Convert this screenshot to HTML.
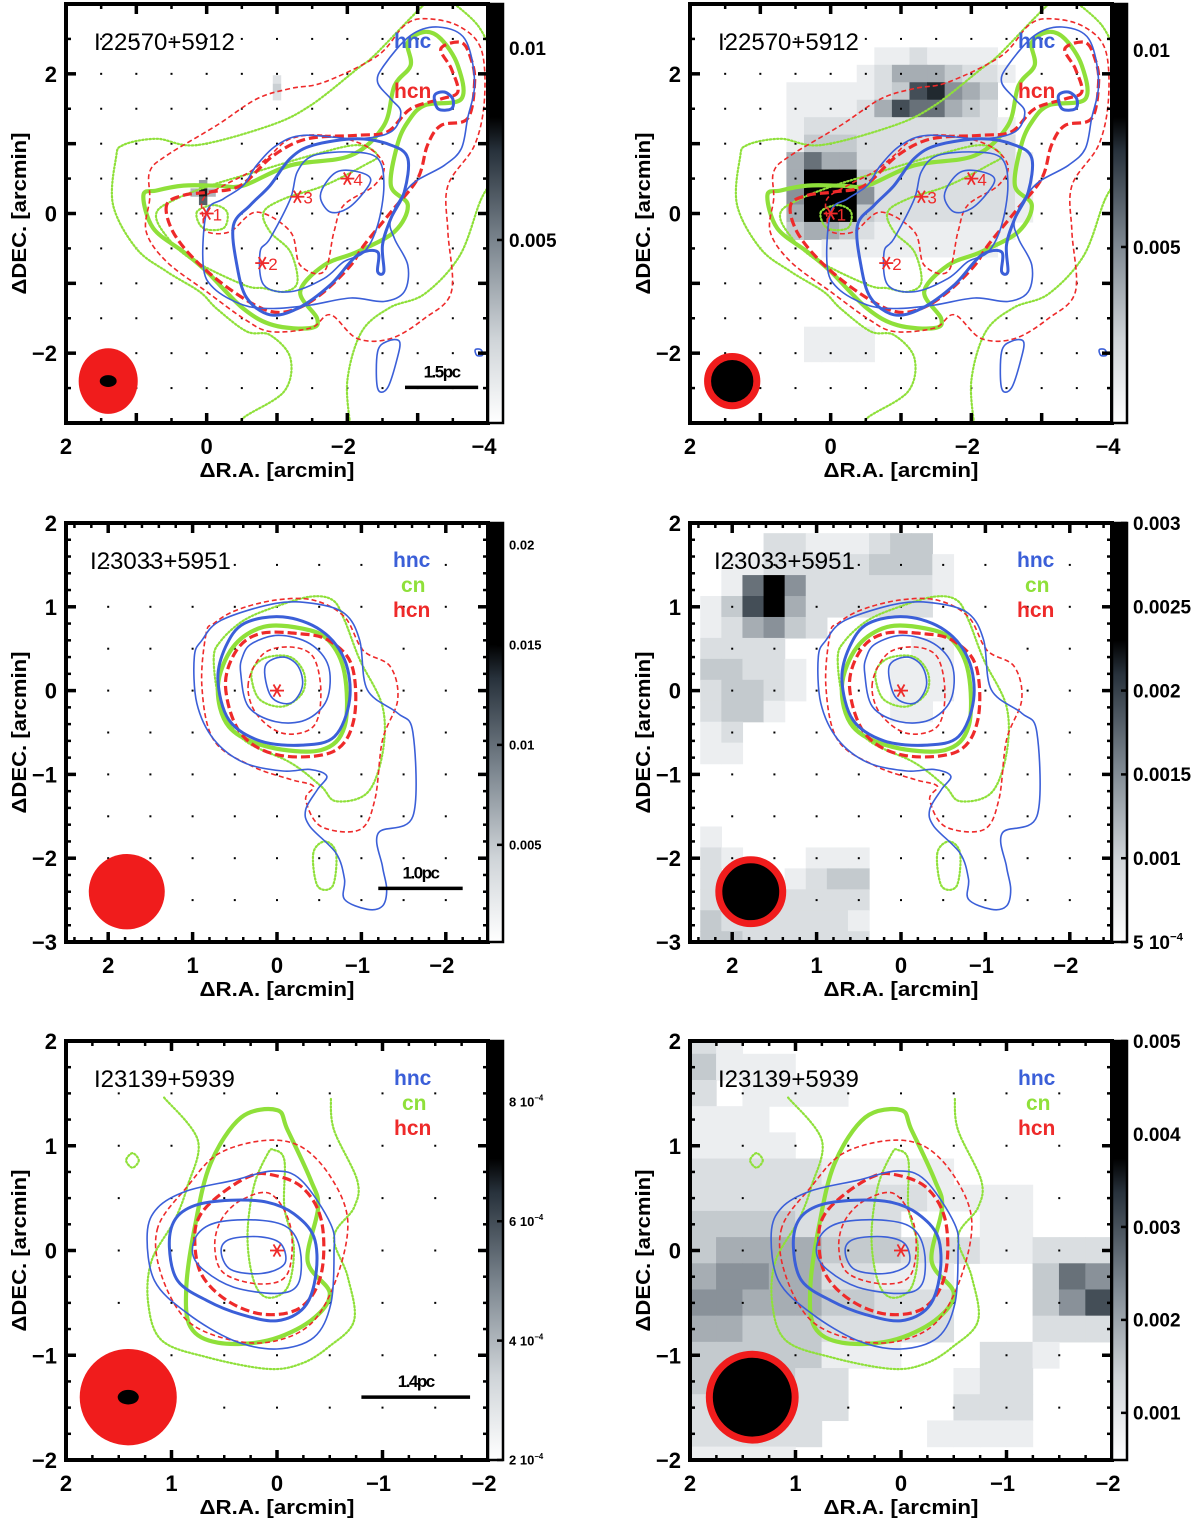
<!DOCTYPE html>
<html><head><meta charset="utf-8"><style>
html,body{margin:0;padding:0;background:#fff;}
svg{display:block;font-family:"Liberation Sans",Arial,sans-serif;}
</style></head><body>
<svg id="fig" width="1200" height="1520" viewBox="0 0 1200 1520" xmlns="http://www.w3.org/2000/svg"></svg>
<script>
// ---------------- DATA (arcmin offsets) ----------------
// Row 1 : I22570+5912
const r1HncThin1 = [[0,0.02],[0.05,-0.74],[-0.1,-1.07],[-0.52,-1.31],[-0.95,-1.36],[-1.48,-1.31],[-2.05,-1.21],[-2.52,-1.26],[-2.81,-1.12],[-2.86,-0.74],[-2.67,-0.36],[-2.62,-0.07],[-2.9,0.4],[-3.38,0.69],[-3.62,0.93],[-3.71,1.36],[-3.81,1.88],[-3.67,2.5],[-3.29,2.67],[-2.9,2.55],[-2.52,2.12],[-2.43,1.88],[-2.62,1.64],[-2.76,1.45],[-2.62,1.17],[-2.14,1.07],[-1.38,1.12],[-1.0,0.98],[-0.71,0.69],[-0.52,0.4],[-0.24,0.21]];
const r1HncThick = [[-0.38,-0.17],[-0.43,-0.74],[-0.57,-1.21],[-0.9,-1.45],[-1.29,-1.36],[-1.76,-1.02],[-2.14,-0.6],[-2.43,-0.55],[-2.43,-0.83],[-2.52,-0.83],[-2.5,-0.45],[-2.62,-0.07],[-2.81,0.31],[-2.86,0.79],[-2.62,0.98],[-2.14,1.07],[-1.52,0.98],[-1.19,0.79],[-0.9,0.4],[-0.62,0.12]];
const r1HncThin2 = [[-0.76,-0.55],[-0.81,-1.02],[-1.19,-1.12],[-1.67,-0.93],[-1.95,-0.69],[-2.24,-0.55],[-2.43,-0.17],[-2.52,0.4],[-2.43,0.79],[-2.05,0.88],[-1.52,0.83],[-1.29,0.6],[-1.19,0.21],[-0.9,-0.36]];
const r1HncInner = [[-1.67,0.4],[-1.62,0.21],[-1.76,0.02],[-2.0,0.07],[-2.24,0.31],[-2.33,0.5],[-2.14,0.6],[-1.86,0.6]];
const r1HncKnot = [[-3.24,1.69],[-3.29,1.5],[-3.48,1.5],[-3.5,1.64],[-3.38,1.74]];
const r1HncSouth = [[-2.43,-1.98],[-2.43,-2.5],[-2.57,-2.5],[-2.71,-2.07],[-2.74,-1.83],[-2.57,-1.83]];
const r1HncTiny = [[-3.82,-1.95],[-3.84,-2.03],[-3.92,-2.03],[-3.9,-1.95]];
const r1CnThick = [[0.9,0.26],[0.76,-0.21],[0.33,-0.55],[0,-0.83],[-0.52,-1.36],[-0.95,-1.6],[-1.48,-1.64],[-1.57,-1.5],[-1.33,-1.12],[-1.67,-0.74],[-2.14,-0.55],[-2.67,-0.26],[-2.86,0.12],[-2.62,0.4],[-2.71,0.98],[-2.86,1.31],[-3.1,1.55],[-3.62,1.64],[-3.57,2.12],[-3.33,2.5],[-3.1,2.6],[-2.86,2.45],[-2.9,2.12],[-2.67,1.83],[-2.52,1.26],[-2.05,0.83],[-1.19,0.69],[-0.52,0.4],[-0.14,0.4],[0.33,0.4],[0.71,0.33]];
const r1CnOuter = [[-0.52,-3.1],[-0.52,-2.93],[-1.1,-2.55],[-1.19,-2.07],[-0.9,-1.74],[-0.57,-1.69],[-0.14,-1.36],[0.1,-1.12],[0.57,-0.83],[1.0,-0.5],[1.33,0.12],[1.29,0.79],[1.19,0.98],[0.71,1.07],[0.14,0.98],[-0.9,1.26],[-1.48,1.55],[-2.14,2.07],[-2.38,2.26],[-2.9,2.8],[-3.2,3.1]];
const r1CnEast = [[-2.05,-3.1],[-2.0,-2.4],[-2.2,-1.7],[-2.6,-1.35],[-3.1,-1.15],[-3.6,-0.6],[-3.9,0.2],[-4.1,0.5]];
const r1CnNE = [[-3.4,3.1],[-3.85,2.7],[-4.1,2.2]];
const r1CnMid = [[0.71,0.02],[0.62,-0.26],[0.24,-0.64],[-0.52,-1.02],[-0.81,-1.07],[-1.1,-1.12],[-1.29,-0.98],[-1.19,-0.55],[-0.9,-0.26],[-0.81,0.02],[-1.1,0.21],[-1.67,0.4],[-2.24,0.69],[-2.43,0.83],[-2.14,0.98],[-1.48,0.83],[-0.71,0.6],[-0.05,0.4],[0.43,0.21]];
const r1CnInner = [[0.14,0.02],[0.05,-0.21],[-0.24,-0.21],[-0.29,0.02],[-0.1,0.12]];
const r1HcnThick = [[0.57,0.12],[0.48,-0.26],[0.14,-0.69],[-0.38,-1.12],[-0.9,-1.4],[-1.29,-1.36],[-1.67,-1.12],[-2.05,-0.74],[-2.24,-0.45],[-2.62,0.02],[-3.0,0.5],[-3.14,0.98],[-3.33,1.26],[-3.71,1.36],[-3.81,1.88],[-3.76,2.21],[-3.62,2.45],[-3.33,2.36],[-3.48,2.07],[-3.57,1.74],[-3.33,1.64],[-2.9,1.5],[-2.57,1.17],[-2.14,1.12],[-1.43,1.07],[-0.95,0.83],[-0.48,0.4],[-0.05,0.31],[0.33,0.26]];
const r1HcnOuter = [[0.81,0.21],[0.86,-0.26],[0.57,-0.69],[0,-1.12],[-0.52,-1.5],[-0.9,-1.69],[-1.48,-1.64],[-1.76,-1.45],[-2.14,-1.79],[-2.62,-1.79],[-3.1,-1.5],[-3.48,-1.12],[-3.43,-0.26],[-3.43,0.4],[-3.81,0.98],[-3.95,1.64],[-3.9,2.36],[-3.57,2.69],[-3.1,2.79],[-2.81,2.69],[-2.43,2.26],[-1.67,1.88],[-1.19,1.79],[-0.71,1.64],[-0.14,1.26],[0.57,0.83],[0.81,0.6]];
const r1HcnInner = [[0.05,-0.07],[0,-0.26],[-0.33,-0.26],[-0.71,0.02],[-1.19,-0.26],[-1.33,-0.74],[-1.67,-0.83],[-1.81,-0.26],[-1.95,0.12],[-2.38,0.4],[-2.52,0.69],[-2.24,0.98],[-1.67,1.12],[-1.19,1.07],[-0.9,0.83],[-0.62,0.6],[-0.24,0.4],[0.05,0.21]];
const r1StarRA = [0,-0.79,-1.29,-2.0];
const r1StarDec = [0,-0.71,0.24,0.5];
const r1StarLabels = ["1","2","3","4"];

// Row 2 : I23033+5951
const r2HncOuter = [[0.98,0.4],[0.95,-0.15],[0.75,-0.58],[0.39,-0.86],[-0.07,-0.96],[-0.39,-0.94],[-0.59,-1.02],[-0.48,-1.18],[-0.34,-1.42],[-0.39,-1.62],[-0.7,-1.94],[-0.8,-2.25],[-0.8,-2.49],[-1.07,-2.61],[-1.25,-2.57],[-1.3,-2.37],[-1.25,-2.1],[-1.2,-1.7],[-1.61,-1.5],[-1.61,-0.5],[-1.43,-0.27],[-1.07,0.01],[-0.98,0.6],[-0.8,0.92],[-0.43,1.04],[0.02,1.04],[0.66,0.84],[0.89,0.6]];
const r2HncThick = [[0.7,0.13],[0.57,-0.35],[0.2,-0.6],[-0.3,-0.65],[-0.68,-0.55],[-0.86,-0.11],[-0.8,0.37],[-0.52,0.72],[-0.07,0.88],[0.39,0.8],[0.61,0.52]];
const r2HncMid = [[0.43,0.21],[0.34,-0.19],[0.02,-0.37],[-0.34,-0.35],[-0.59,-0.11],[-0.61,0.29],[-0.39,0.56],[-0.02,0.66],[0.3,0.56],[0.41,0.4]];
const r2HncInner = [[0.14,0.29],[0.07,-0.07],[-0.16,-0.15],[-0.3,0.05],[-0.25,0.29],[-0.07,0.4]];
const r2CnThick = [[0.7,0.05],[0.57,-0.43],[0.11,-0.67],[-0.52,-0.71],[-0.8,-0.43],[-0.8,0.21],[-0.61,0.6],[-0.3,0.74],[0.16,0.76],[0.52,0.52]];
const r2CnOuter = [[0.75,0.37],[0.66,-0.19],[0.39,-0.59],[-0.16,-0.86],[-0.52,-1.14],[-0.7,-1.32],[-1.07,-1.22],[-1.25,-0.75],[-1.25,-0.19],[-0.98,0.37],[-0.8,0.84],[-0.66,1.08],[-0.39,1.12],[0.02,1.0],[0.39,0.84],[0.66,0.6]];
const r2CnInner = [[0.3,0.13],[0.2,-0.11],[-0.07,-0.19],[-0.3,-0.03],[-0.32,0.21],[-0.16,0.4],[0.11,0.4],[0.27,0.29]];
const r2CnLoop = [[-0.43,-1.94],[-0.48,-2.33],[-0.66,-2.33],[-0.7,-1.94],[-0.57,-1.8]];
const r2HcnThick = [[0.61,0.05],[0.43,-0.51],[-0.02,-0.77],[-0.66,-0.73],[-0.91,-0.35],[-0.89,0.29],[-0.61,0.6],[-0.25,0.68],[0.2,0.68],[0.48,0.48]];
const r2HcnOuter = [[0.84,0.68],[0.89,0.05],[0.75,-0.59],[0.3,-0.9],[-0.16,-1.06],[-0.43,-1.14],[-0.34,-1.3],[-0.52,-1.62],[-0.98,-1.66],[-1.16,-1.3],[-1.25,-0.59],[-1.43,-0.11],[-1.34,0.29],[-1.02,0.48],[-0.8,0.88],[-0.43,1.08],[0.02,1.08],[0.48,0.96],[0.75,0.8]];
const r2HcnInner = [[0.34,0.09],[0.25,-0.27],[-0.07,-0.51],[-0.43,-0.43],[-0.52,-0.03],[-0.43,0.4],[-0.16,0.52],[0.16,0.44]];
const r2StarRA = [0];
const r2StarDec = [0];

// Row 3 : I23139+5939
const r3HncOuter = [[1.23,0.16],[1.16,-0.29],[0.85,-0.6],[0.41,-0.86],[0,-0.94],[-0.35,-0.83],[-0.51,-0.51],[-0.54,-0.03],[-0.51,0.25],[-0.23,0.67],[0.03,0.76],[0.41,0.67],[0.85,0.57],[1.13,0.41]];
const r3HncThick = [[1.02,0.03],[0.94,-0.29],[0.66,-0.48],[0.34,-0.61],[0,-0.67],[-0.26,-0.54],[-0.37,-0.22],[-0.35,0.13],[-0.16,0.35],[0.09,0.46],[0.44,0.48],[0.78,0.43],[0.97,0.29]];
const r3HncMid = [[0.8,-0.03],[0.69,-0.19],[0.41,-0.35],[0,-0.41],[-0.2,-0.32],[-0.22,0],[-0.1,0.22],[0.18,0.29],[0.56,0.27],[0.75,0.16]];
const r3HncInner = [[0.53,0],[0.44,-0.18],[0.15,-0.22],[-0.07,-0.13],[-0.04,0.06],[0.15,0.13],[0.44,0.11]];
const r3CnThick = [[0.63,0.83],[0.34,1.27],[0,1.34],[-0.1,1.15],[-0.32,0.67],[-0.39,0.41],[-0.29,-0.1],[-0.5,-0.41],[-0.32,-0.67],[0.09,-0.86],[0.56,-0.88],[0.82,-0.73],[0.86,-0.35],[0.78,0.22]];
const r3CnOuter = [[1.07,1.46],[0.75,1.05],[0.85,0.61],[0.97,0.29],[1.19,-0.1],[1.22,-0.51],[1.09,-0.86],[0.66,-1.02],[0.09,-1.13],[-0.23,-1.08],[-0.49,-0.92],[-0.73,-0.67],[-0.67,-0.25],[-0.54,0.13],[-0.73,0.41],[-0.76,0.67],[-0.54,1.15],[-0.51,1.46]];
const r3CnInner = [[0.09,0.92],[0.22,0.61],[0.28,0.13],[0.22,-0.29],[0.09,-0.45],[-0.1,-0.35],[-0.16,0.03],[-0.07,0.41],[-0.07,0.86],[0.03,0.96]];
const r3CnLoop = [[1.31,0.86],[1.37,0.79],[1.43,0.86],[1.37,0.93]];
const r3HcnThick = [[0.78,0.13],[0.72,-0.22],[0.47,-0.48],[0.12,-0.61],[-0.23,-0.54],[-0.42,-0.22],[-0.42,0.29],[-0.23,0.61],[0.09,0.73],[0.28,0.7],[0.53,0.54],[0.72,0.35]];
const r3HcnOuter = [[1.13,0.22],[1.1,-0.22],[0.85,-0.67],[0.41,-0.86],[0,-0.86],[-0.35,-0.67],[-0.58,-0.22],[-0.67,0.29],[-0.51,0.7],[-0.23,0.99],[0.12,1.05],[0.56,0.92],[0.85,0.61]];
const r3HcnInner = [[0.59,0.03],[0.5,-0.22],[0.15,-0.32],[-0.1,-0.22],[-0.13,0.22],[0.06,0.54],[0.34,0.48],[0.53,0.29]];
const r3StarRA = [0];
const r3StarDec = [0];

// Gray-scale maps (digit 0..9 intensity) for the right-hand panels
const r1GrayRA0 = 1.0, r1GrayDec0 = 2.5, r1GrayStep = 0.25;
const r1Gray = ["00000000000000000","00000001121111000","00000012444322100","00111112378543000","00111124766432000","00122222222222100","00133322222222200","00464422222222210","00499932222222210","00599952222222210","00499932222222210","00344321111111100","00001111111111000","00000000000000000","00000000000000000","00000000000000000","00000000000000000","00011110000000000","00011110000000000","00000000000000000","00000000000000000"];
const r2GrayRA0 = 2.25, r2GrayDec0 = 1.75, r2GrayStep = 0.25;
const r2Gray = ["000221112330","011222223331","016952222221","137942222220","124532000000","222200000011","332210000111","233210000111","233100000110","120000000000","110000000000","000000000000","000000000000","000000000000","100000000000","210001110000","200012330000","222222220000","322222210000","332222220000"];
const r3GrayRA0 = 1.875, r3GrayDec0 = 2.0, r3GrayStep = 0.25;
const r3Gray = ["2100000000000000","3111000000000000","2011110000000000","1110000000000000","1111000000000000","2222211111000000","2222222221111000","3333222200011000","3444433322211222","4554422111000365","5544433222000357","4433322222000222","3333311100022100","3333220000122000","2222220000222000","2222200001111000","1111000000000000"];
// Left row1 small gray features
const r1LeftBlobRA = [0.05,0.05,0.05,-0.07,0.17,-1.0,-1.0,-1.0];
const r1LeftBlobDec = [0.3,0.18,0.42,0.3,0.3,1.8,1.92,1.68];
const r1LeftBlobLvl = [9,7,5,4,4,3,2,2];

// Axis tick labels
const r1XTicks = [2,0,-2,-4], r1YTicks = [2,0,-2];
const r2XTicks = [2,1,0,-1,-2], r2YTicks = [2,1,0,-1,-2,-3];
const r3XTicks = [2,1,0,-1,-2], r3YTicks = [2,1,0,-1,-2];

// Colorbar tick values & labels
const cb1LVals = [0.01,0.005], cb1LText = ["0.01","0.005"];
const cb1RVals = [0.01,0.005], cb1RText = ["0.01","0.005"];
const cb2LVals = [0.02,0.015,0.01,0.005], cb2LText = ["0.02","0.015","0.01","0.005"];
const cb2RVals = [0.003,0.0025,0.002,0.0015,0.001,0.0005], cb2RText = ["0.003","0.0025","0.002","0.0015","0.001","5 10|-4"];
const cb3LVals = [0.0008,0.0006,0.0004,0.0002], cb3LText = ["8 10|-4","6 10|-4","4 10|-4","2 10|-4"];
const cb3RVals = [0.005,0.004,0.003,0.002,0.001], cb3RText = ["0.005","0.004","0.003","0.002","0.001"];

// ---------------- DRAWING ----------------
const NS = "http://www.w3.org/2000/svg";
const svg = document.getElementById('fig');
const BLUE = "#3b5fd8", GREEN = "#8fe03a", RED = "#ee2a2a";
function mk(tag, attrs, parent){ const e = document.createElementNS(NS, tag); for (const k in attrs) e.setAttribute(k, attrs[k]); (parent||svg).appendChild(e); return e; }

function grayColor(k){
  const v = k/9;
  const stops = [[0,[255,255,255]],[0.3,[205,210,214]],[0.6,[125,134,142]],[0.85,[45,55,64]],[1,[0,0,0]]];
  for (let i=1;i<stops.length;i++){ if (v<=stops[i][0]){ const a=stops[i-1],b=stops[i]; const t=(v-a[0])/(b[0]-a[0]); const c=a[1].map((x,j)=>Math.round(x+(b[1][j]-x)*t)); return `rgb(${c[0]},${c[1]},${c[2]})`; } }
  return "#000";
}
function smoothPath(pts, closed){
  const n = pts.length; let d = `M${pts[0][0].toFixed(1)},${pts[0][1].toFixed(1)}`;
  const P = i => closed ? pts[(i+n)%n] : pts[Math.max(0,Math.min(n-1,i))];
  const segs = closed ? n : n-1;
  for (let i=0;i<segs;i++){
    const p0=P(i-1),p1=P(i),p2=P(i+1),p3=P(i+2);
    const c1=[p1[0]+(p2[0]-p0[0])/6,p1[1]+(p2[1]-p0[1])/6], c2=[p2[0]-(p3[0]-p1[0])/6,p2[1]-(p3[1]-p1[1])/6];
    d += `C${c1[0].toFixed(1)},${c1[1].toFixed(1)} ${c2[0].toFixed(1)},${c2[1].toFixed(1)} ${p2[0].toFixed(1)},${p2[1].toFixed(1)}`;
  }
  return d + (closed?"Z":"");
}
const STYLE = {
  hncThin:{stroke:BLUE,'stroke-width':1.6},
  hncThick:{stroke:BLUE,'stroke-width':3},
  cnThin:{stroke:GREEN,'stroke-width':2.2,'stroke-dasharray':'1.4 2.2','stroke-linecap':'round'},
  cnThick:{stroke:GREEN,'stroke-width':4.2},
  hcnThin:{stroke:RED,'stroke-width':1.6,'stroke-dasharray':'5 3'},
  hcnThick:{stroke:RED,'stroke-width':3.2,'stroke-dasharray':'9 4'}
};
const rows = [
  {y0:4, y1:423, ra:[2,-4], dec:[3,-3], minor:0.5, xt:r1XTicks, yt:r1YTicks, name:"I22570+5912", legend:["hnc","hcn"],
   contours:[[r1CnOuter,'cnThin',true],[r1CnEast,'cnThin',true],[r1CnNE,'cnThin',true],[r1CnMid,'cnThin'],[r1CnInner,'cnThin'],[r1CnThick,'cnThick'],[r1HcnOuter,'hcnThin'],[r1HcnInner,'hcnThin'],[r1HcnThick,'hcnThick'],[r1HncThin1,'hncThin'],[r1HncThin2,'hncThin'],[r1HncInner,'hncThin'],[r1HncSouth,'hncThin'],[r1HncTiny,'hncThin'],[r1HncThick,'hncThick'],[r1HncKnot,'hncThick']],
   starRA:r1StarRA, starDec:r1StarDec, starLab:r1StarLabels,
   gray:{g:r1Gray,ra0:r1GrayRA0,dec0:r1GrayDec0,step:r1GrayStep},
   beamL:{ra:1.4,dec:-2.4,rx:0.42,ry:0.47,irx:0.12,iry:0.085}, beamR:{ra:1.4,dec:-2.4,r:0.4},
   bar:{ra1:-2.82,ra2:-3.86,dec:-2.49,label:"1.5pc"},
   cb:[{vals:cb1LVals,txt:cb1LText,range:[0.00023,0.01115],black:0.27,fs:19},{vals:cb1RVals,txt:cb1RText,range:[0.00053,0.01117],black:0.27,fs:19}]},
  {y0:523, y1:942, ra:[2.5,-2.5], dec:[2,-3], minor:0.2, xt:r2XTicks, yt:r2YTicks, name:"I23033+5951", legend:["hnc","cn","hcn"],
   contours:[[r2CnOuter,'cnThin'],[r2CnInner,'cnThin'],[r2CnLoop,'cnThin'],[r2CnThick,'cnThick'],[r2HcnOuter,'hcnThin'],[r2HcnInner,'hcnThin'],[r2HcnThick,'hcnThick'],[r2HncOuter,'hncThin'],[r2HncMid,'hncThin'],[r2HncInner,'hncThin'],[r2HncThick,'hncThick']],
   starRA:r2StarRA, starDec:r2StarDec, starLab:[],
   gray:{g:r2Gray,ra0:r2GrayRA0,dec0:r2GrayDec0,step:r2GrayStep},
   beamL:{ra:1.78,dec:-2.4,rx:0.45,ry:0.45,irx:0,iry:0}, beamR:{ra:1.78,dec:-2.4,r:0.42},
   bar:{ra1:-1.2,ra2:-2.2,dec:-2.36,label:"1.0pc"},
   cb:[{vals:cb2LVals,txt:cb2LText,range:[0.00014,0.0211],black:0.29,fs:13},{vals:cb2RVals,txt:cb2RText,range:[0.0005,0.003],black:0.28,fs:19}]},
  {y0:1041, y1:1460, ra:[2,-2], dec:[2,-2], minor:0.25, xt:r3XTicks, yt:r3YTicks, name:"I23139+5939", legend:["hnc","cn","hcn"],
   contours:[[r3CnOuter,'cnThin',true],[r3CnInner,'cnThin'],[r3CnLoop,'cnThin'],[r3CnThick,'cnThick'],[r3HcnOuter,'hcnThin'],[r3HcnInner,'hcnThin'],[r3HcnThick,'hcnThick'],[r3HncOuter,'hncThin'],[r3HncMid,'hncThin'],[r3HncInner,'hncThin'],[r3HncThick,'hncThick']],
   starRA:r3StarRA, starDec:r3StarDec, starLab:[],
   gray:{g:r3Gray,ra0:r3GrayRA0,dec0:r3GrayDec0,step:r3GrayStep},
   beamL:{ra:1.41,dec:-1.4,rx:0.46,ry:0.46,irx:0.1,iry:0.07}, beamR:{ra:1.41,dec:-1.4,r:0.44},
   bar:{ra1:-0.8,ra2:-1.83,dec:-1.4,label:"1.4pc"},
   cb:[{vals:cb3LVals,txt:cb3LText,range:[0.0002,0.000902],black:0.28,fs:13},{vals:cb3RVals,txt:cb3RText,range:[0.000493,0.005],black:0.28,fs:19}]}
];
const cols = [{x0:66,x1:488},{x0:690,x1:1112}];
const fmt = v => (v<0?"\u2212":"")+Math.abs(v);

rows.forEach((R, ri) => {
  cols.forEach((C, ci) => {
    const g = mk('g', {});
    
    
    const X = ra => C.x0 + (R.ra[0]-ra)/(R.ra[0]-R.ra[1])*(C.x1-C.x0);
    const Y = de => R.y0 + (R.dec[0]-de)/(R.dec[0]-R.dec[1])*(R.y1-R.y0);
    const sx = (C.x1-C.x0)/(R.ra[0]-R.ra[1]), sy = (R.y1-R.y0)/(R.dec[0]-R.dec[1]);
    const cid = `clip${ri}${ci}`;
    const defs = mk('defs', {}, g); const cp = mk('clipPath', {id:cid}, defs);
    mk('rect', {x:C.x0, y:R.y0, width:C.x1-C.x0, height:R.y1-R.y0}, cp);
    const plot = mk('g', {'clip-path':`url(#${cid})`}, g);
    
    
    if (ci===1){
      const G = R.gray;
      G.g.forEach((row, j) => { for (let i=0;i<row.length;i++){ const k=+row[i]; if(!k) continue;
        const ra = G.ra0 - i*G.step, de = G.dec0 - j*G.step;
        const r = mk('rect', {x:X(ra+G.step/2)-0.3, y:Y(de+G.step/2)-0.3, width:G.step*sx+0.6, height:G.step*sy+0.6, fill:grayColor(k)}, plot);
        
         } });
    } else if (ri===0){
      r1LeftBlobRA.forEach((ra,i) => { const s=0.12;
        const r = mk('rect', {x:X(ra+s/2), y:Y(r1LeftBlobDec[i]+s/2), width:s*sx, height:s*sy, fill:grayColor(r1LeftBlobLvl[i]), opacity:0.9}, plot);
        
         });
    }
    for (let ra=Math.floor(R.ra[0]*2)/2; ra>R.ra[1]; ra-=0.5){ if (ra>=R.ra[0]) continue;
      for (let de=Math.floor(R.dec[0]*2)/2; de>R.dec[1]; de-=0.5){ if (de>=R.dec[0]) continue;
        mk('rect', {x:X(ra)-1, y:Y(de)-1, width:2, height:2, fill:'#000'}, plot); } }
    R.contours.forEach(([pts, st, open]) => {
      const p = mk('path', Object.assign({d:smoothPath(pts.map(q=>[X(q[0]),Y(q[1])]), !open), fill:'none'}, STYLE[st]), plot);
      
      
    });
    if (ci===0){
      const b = R.beamL;
      const e = mk('ellipse', {cx:X(b.ra), cy:Y(b.dec), rx:b.rx*sx, ry:b.ry*sy, fill:'#f01c1c'}, plot);
      
      
      if (b.irx) mk('ellipse', {cx:X(b.ra), cy:Y(b.dec), rx:b.irx*sx, ry:b.iry*sy, fill:'#000'}, plot);
    } else {
      const b = R.beamR;
      const e = mk('circle', {cx:X(b.ra), cy:Y(b.dec), r:b.r*sx-3.5, fill:'#000', stroke:'#f01c1c', 'stroke-width':7}, plot);
      
      
    }
    R.starRA.forEach((ra,i) => { const x=X(ra), y=Y(R.starDec[i]), s=7;
      const sg = mk('g', {stroke:RED, 'stroke-width':1.8}, plot);
      
      
      mk('line',{x1:x-s,y1:y,x2:x+s,y2:y},sg); mk('line',{x1:x-s*0.5,y1:y-s*0.87,x2:x+s*0.5,y2:y+s*0.87},sg); mk('line',{x1:x-s*0.5,y1:y+s*0.87,x2:x+s*0.5,y2:y-s*0.87},sg);
      if (R.starLab[i]){ const t = mk('text',{x:x+6,y:y+7,fill:RED,'font-size':17},plot); t.textContent=R.starLab[i]; }
    });
    if (ci===0){
      const B = R.bar;
      const l = mk('line',{x1:X(B.ra1),x2:X(B.ra2),y1:Y(B.dec),y2:Y(B.dec),stroke:'#000','stroke-width':3.5}, g);
      
      
      const t = mk('text',{x:(X(B.ra1)+X(B.ra2))/2, y:Y(B.dec)-10, 'text-anchor':'middle','font-size':17,'font-weight':'bold','letter-spacing':-1.5}, g);
      t.textContent = B.label;
      
      
    }
    const nm = mk('text',{x:C.x0+(ri===1?24:28), y:R.y0+46, 'font-size':24}, g);
    nm.textContent = R.name;
    
    
    const lx = C.x0 + (ri===1?327:328);
    const lcol = {hnc:BLUE, cn:GREEN, hcn:RED};
    R.legend.forEach((s,i) => {
      const yy = ri===0 ? R.y0 + 44 + i*50 : R.y0 + 44 + i*25;
      const t = mk('text',{x:lx+(s==='cn'?8:0), y:yy, fill:lcol[s], 'font-size':21, 'font-weight':'bold'}, g);
      t.textContent = s;
      
      
    });
    const tk = mk('g',{stroke:'#000'}, g);
    const eps=1e-6;
    for (let v=Math.ceil(R.ra[1]/R.minor)*R.minor; v<=R.ra[0]+eps; v+=R.minor){
      const major = Math.abs(v-Math.round(v))<eps; const L = major?10:5, x=X(v);
      mk('line',{x1:x,x2:x,y1:R.y1,y2:R.y1-L,'stroke-width':major?3.5:2.5},tk); mk('line',{x1:x,x2:x,y1:R.y0,y2:R.y0+L,'stroke-width':major?3.5:2.5},tk); }
    for (let v=Math.ceil(R.dec[1]/R.minor)*R.minor; v<=R.dec[0]+eps; v+=R.minor){
      const major = Math.abs(v-Math.round(v))<eps; const L = major?10:5, y=Y(v);
      mk('line',{x1:C.x0,x2:C.x0+L,y1:y,y2:y,'stroke-width':major?3.5:2.5},tk); mk('line',{x1:C.x1,x2:C.x1-L,y1:y,y2:y,'stroke-width':major?3.5:2.5},tk); }
    const fr = mk('rect',{x:C.x0,y:R.y0,width:C.x1-C.x0,height:R.y1-R.y0,fill:'none',stroke:'#000','stroke-width':4}, g);
    
    
    R.xt.forEach(v => { const t = mk('text',{x:X(v)-(v<0?4:0), y:R.y1+31,'text-anchor':'middle','font-size':22,'font-weight':'bold'}, g); t.textContent=fmt(v);
      
       });
    R.yt.forEach(v => { const t = mk('text',{x:C.x0-9, y:Y(v)+8,'text-anchor':'end','font-size':22,'font-weight':'bold'}, g); t.textContent=fmt(v);
      
       });
    const xtit = mk('text',{x:(C.x0+C.x1)/2, y:R.y1+54,'text-anchor':'middle','font-size':20,'font-weight':'bold',textLength:155,lengthAdjust:'spacingAndGlyphs'}, g);
    xtit.textContent = "\u0394R.A. [arcmin]";
    
    
    const ycx = C.x0-40, ycy = (R.y0+R.y1)/2;
    const ytit = mk('text',{x:ycx, y:ycy,'text-anchor':'middle','font-size':20,'font-weight':'bold',transform:`rotate(-90 ${ycx} ${ycy})`,textLength:162,lengthAdjust:'spacingAndGlyphs'}, g);
    ytit.textContent = "\u0394DEC. [arcmin]";
    
    
    const cb = R.cb[ci]; const bx = C.x1, bw = 15;
    const gid = `grad${ri}${ci}`;
    const lg = mk('linearGradient',{id:gid,x1:0,y1:0,x2:0,y2:1}, defs);
    [[0,'#000'],[cb.black,'#000'],[cb.black+0.08,'#27313b'],[cb.black+0.3,'#7c868f'],[0.8,'#cfd4d8'],[1,'#ffffff']].forEach(s => mk('stop',{offset:Math.min(1,s[0]),'stop-color':s[1]},lg));
    const cbr = mk('rect',{x:bx,y:R.y0,width:bw,height:R.y1-R.y0,fill:`url(#${gid})`,stroke:'#000','stroke-width':2.5}, g);
    
    
    const CY = v => R.y1 - (v-cb.range[0])/(cb.range[1]-cb.range[0])*(R.y1-R.y0);
    cb.vals.forEach((v,i) => {
      const y = CY(v);
      mk('line',{x1:bx+bw,x2:bx+bw-6,y1:y,y2:y,stroke:'#000','stroke-width':2.5}, g);
      const parts = cb.txt[i].split('|');
      const t = mk('text',{x:bx+bw+6, y:y+cb.fs*0.36,'font-size':cb.fs,'font-weight':'bold'}, g);
      
      
      t.appendChild(document.createTextNode(parts[0]));
      if (parts[1]){ const sp = mk('tspan',{dy:-cb.fs*0.45,'font-size':cb.fs*0.6}, t); sp.textContent = "\u2212"+parts[1].replace('-',''); }
    });
  });
});
</script>
</body></html>
